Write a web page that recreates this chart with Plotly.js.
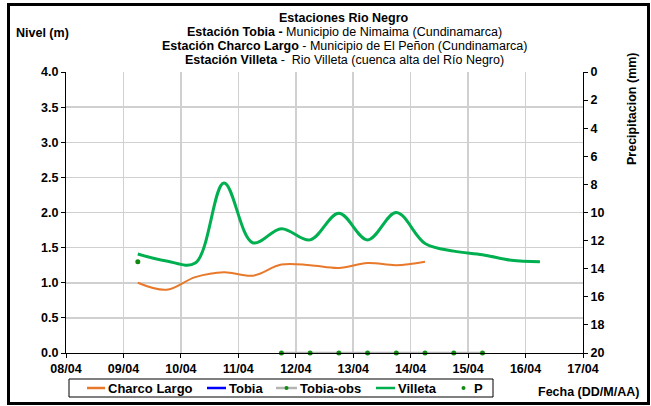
<!DOCTYPE html>
<html><head><meta charset="utf-8">
<script src="https://cdn.plot.ly/plotly-3.0.1.min.js"></script>
<style>body{margin:0;background:#fff}#c{width:651px;height:406px}#f{position:absolute;left:7px;top:3px;width:637px;height:396px;border:3px solid #000;pointer-events:none}</style>
</head><body><div id="c"></div><div id="f"></div>
<script>
// Data
const villetaDates = ["2010-04-09 06:00","2010-04-09 18:00","2010-04-10 06:00","2010-04-10 18:00","2010-04-11 06:00","2010-04-11 18:00","2010-04-12 06:00","2010-04-12 18:00","2010-04-13 06:00","2010-04-13 18:00","2010-04-14 06:00","2010-04-14 18:00","2010-04-15 06:00","2010-04-15 18:00","2010-04-16 06:00"];
const villetaLevel = [1.41,1.31,1.28,2.42,1.57,1.77,1.61,1.99,1.61,2.0,1.56,1.45,1.40,1.32,1.30];
const charcoDates = ["2010-04-09 06:00","2010-04-09 18:00","2010-04-10 06:00","2010-04-10 18:00","2010-04-11 06:00","2010-04-11 18:00","2010-04-12 06:00","2010-04-12 18:00","2010-04-13 06:00","2010-04-13 18:00","2010-04-14 06:00"];
const charcoLevel = [1.0,0.90,1.08,1.15,1.10,1.26,1.25,1.21,1.28,1.25,1.30];
const tobiaDates = [null];
const tobiaLevel = [null];
const tobiaObsDates = ["2010-04-11 18:00","2010-04-12 06:00","2010-04-12 18:00","2010-04-13 06:00","2010-04-13 18:00","2010-04-14 06:00","2010-04-14 18:00","2010-04-15 06:00"];
const tobiaObsLevel = [0,0,0,0,0,0,0,0];
const pDates = ["2010-04-09 06:00"];
const pValues = [13.5];
const xTickVals = ["2010-04-08","2010-04-09","2010-04-10","2010-04-11","2010-04-12","2010-04-13","2010-04-14","2010-04-15","2010-04-16","2010-04-17"];
const xTickText = ["08/04","09/04","10/04","11/04","12/04","13/04","14/04","15/04","16/04","17/04"];

const F = "Liberation Sans, Arial, sans-serif";
const bold = {family:F,size:12.5,color:"#000",weight:"bold"};

const traces = [
 {x:charcoDates,y:charcoLevel,name:"Charco Largo",mode:"lines",line:{color:"#E8782A",width:2,shape:"spline",smoothing:1}},
 {x:tobiaDates,y:tobiaLevel,name:"Tobia",mode:"lines",line:{color:"#0000FF",width:2.5}},
 {x:tobiaObsDates,y:tobiaObsLevel,name:"Tobia-obs",mode:"lines+markers",line:{color:"#B4B4B4",width:2.5},marker:{color:"#108A10",size:5},cliponaxis:false},
 {x:villetaDates,y:villetaLevel,name:"Villeta",mode:"lines",line:{color:"#00B050",width:3,shape:"spline",smoothing:1}},
 {x:pDates,y:pValues,name:"P",mode:"markers",yaxis:"y2",marker:{color:"#108A10",size:5}}
];
traces.forEach(t=>t.showlegend=false);

const L=66,R=583,T=72,B=353,W=R-L,H=B-T;
const px=x=>(x-L)/W, py=y=>(B-y)/H;
const ann=(x,y,text,opt)=>Object.assign({x:px(x),y:py(y),xref:"paper",yref:"paper",text:text,showarrow:false,font:{family:F,size:12.5,color:"#000"},xanchor:"center",yanchor:"middle"},opt||{});

// custom legend built from the traces (symbol start px, text start px)
const legPos = [[87,106],[207,227],[276,298],[376,396],[452,472]];
const legY = 388;
const shapes = [{type:"rect",xref:"paper",yref:"paper",x0:px(69),x1:px(493),y0:py(379),y1:py(397),line:{color:"#000",width:1},fillcolor:"rgba(0,0,0,0)"}];
const legAnn = [];
traces.forEach((t,i)=>{
  const [s,tx]=legPos[i];
  if(t.mode.indexOf("lines")>=0){
    shapes.push({type:"line",xref:"paper",yref:"paper",x0:px(s),x1:px(tx-1),y0:py(legY),y1:py(legY),line:{color:t.line.color,width:2.5}});
  }
  if(t.mode.indexOf("markers")>=0){
    const c=(s+tx-1)/2+(t.mode==="markers"?2:0);
    shapes.push({type:"circle",xref:"paper",yref:"paper",x0:px(c-2),x1:px(c+2),y0:py(legY-2),y1:py(legY+2),line:{width:0},fillcolor:t.marker.color});
  }
  legAnn.push(ann(tx,legY,"<b>"+t.name+"</b>",{xanchor:"left",font:{family:F,size:13,color:"#000"}}));
});

const layout = {
 width:651,height:406,
 margin:{l:L,r:651-R,t:T,b:406-B,autoexpand:false},
 paper_bgcolor:"#fff",plot_bgcolor:"#fff",
 showlegend:false,
 xaxis:{type:"date",range:["2010-04-08","2010-04-17"],tickvals:xTickVals,ticktext:xTickText,tickfont:bold,automargin:false,
   showgrid:true,gridcolor:"#D0D0D0",gridwidth:1.5,showline:true,linecolor:"#000",linewidth:1,ticks:"outside",ticklen:4,tickcolor:"#000",zeroline:false},
 yaxis:{range:[0,4],dtick:0.5,tickformat:".1f",tickfont:bold,showgrid:true,gridcolor:"#D0D0D0",gridwidth:1.5,automargin:false,
   showline:true,linecolor:"#000",linewidth:1,ticks:"outside",ticklen:4,tickcolor:"#000",zeroline:false},
 yaxis2:{overlaying:"y",side:"right",range:[20,0],dtick:2,tickfont:bold,showgrid:false,showline:true,linecolor:"#000",linewidth:1,automargin:false,
   ticks:"outside",ticklen:4,tickcolor:"#000",zeroline:false},
 shapes:shapes,
 annotations:[
  ann(344,18,"<b>Estaciones Rio Negro</b>"),
  ann(344,32,"<b>Estación Tobia -</b> Municipio de Nimaima (Cundinamarca)"),
  ann(344,46,"<b>Estación Charco Largo</b> - Municipio de El Peñon (Cundinamarca)"),
  ann(344,60,"<b>Estación Villeta</b> -  Rio Villeta (cuenca alta del Río Negro)"),
  ann(14,33,"<b>Nivel (m)</b>",{xanchor:"left"}),
  ann(632,109,"<b>Precipitacion (mm)</b>",{textangle:-90}),
  ann(641,392,"<b>Fecha (DD/M/AA)</b>",{xanchor:"right"})
 ].concat(legAnn)
};
Plotly.newPlot("c",traces,layout,{displayModeBar:false,staticPlot:true});
</script></body></html>
